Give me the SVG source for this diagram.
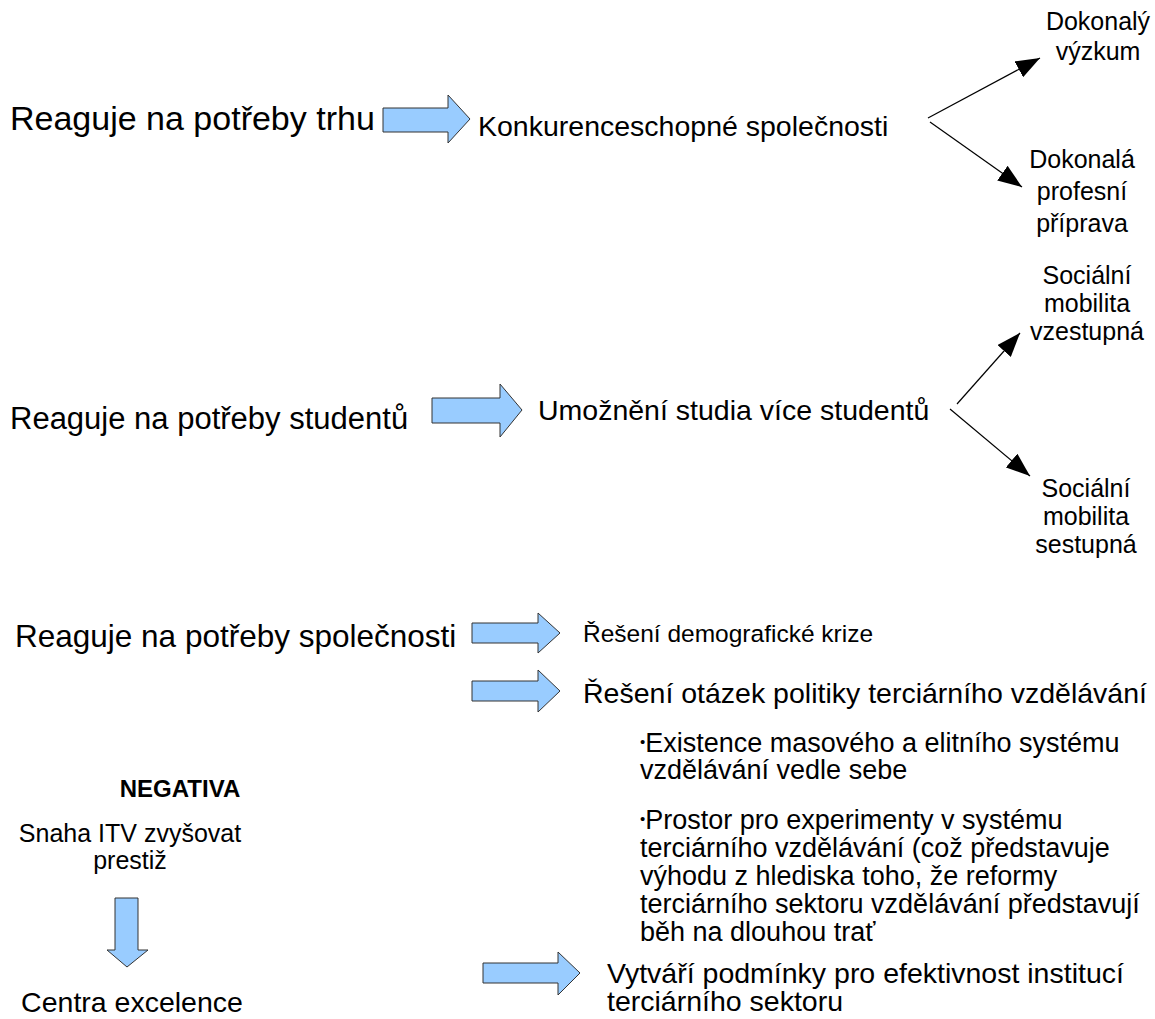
<svg xmlns="http://www.w3.org/2000/svg" width="1155" height="1019" viewBox="0 0 1155 1019">
<style>
text{font-family:"Liberation Sans",Arial,sans-serif;fill:#000}
.mid{font-size:28.5px}
.sm{font-size:25px}
.bl{font-size:27px}
.bul{font-size:15px}
.c{text-anchor:middle}
.blk{fill:#99ccff;stroke:#333;stroke-width:1}
.ln{stroke:#000;stroke-width:1.2;fill:none;marker-end:url(#ah)}
</style>
<defs>
<marker id="ah" viewBox="0 0 24 18" refX="24" refY="9" markerWidth="24" markerHeight="18" markerUnits="userSpaceOnUse" orient="auto">
<path d="M0,0 L24,9 L0,18 Z" fill="#000"/>
</marker>
</defs>
<rect width="1155" height="1019" fill="#fff"/>
<g id="connectors">
<path class="blk" d="M383,108 H448 V95 L470,119 L448,143 V132 H383 Z"/>
<path class="blk" d="M432,398 H500 V384 L522,410 L500,437 V423 H432 Z"/>
<path class="blk" d="M472,623 H538 V613 L560,633 L538,653 V643 H472 Z"/>
<path class="blk" d="M472,681 H538 V670 L560,691 L538,712 V701 H472 Z"/>
<path class="blk" d="M483,963 H558 V952 L580,973 L558,995 V983 H483 Z"/>
<path class="blk" d="M115,898 H138 V950 H148 L127,967 L107,950 H115 Z"/>
<line class="ln" x1="928" y1="118" x2="1040" y2="58"/>
<line class="ln" x1="930" y1="122" x2="1022" y2="187"/>
<line class="ln" x1="957" y1="404" x2="1020" y2="333"/>
<line class="ln" x1="950" y1="409" x2="1030" y2="476"/>
</g>
<g id="trh"><text font-size="34" x="10" y="130">Reaguje na potřeby trhu</text></g>
<g id="konkurence"><text class="mid" x="478" y="136">Konkurenceschopné společnosti</text></g>
<g id="vyzkum"><text class="sm c" x="1098" y="30">Dokonalý</text><text class="sm c" x="1098" y="60">výzkum</text></g>
<g id="priprava"><text class="sm c" x="1082" y="168">Dokonalá</text><text class="sm c" x="1082" y="200">profesní</text><text class="sm c" x="1082" y="232">příprava</text></g>
<g id="studenti"><text font-size="31" x="10" y="429">Reaguje na potřeby studentů</text></g>
<g id="umozneni"><text class="mid" x="538" y="420">Umožnění studia více studentů</text></g>
<g id="vzestupna"><text class="sm c" x="1087" y="284">Sociální</text><text class="sm c" x="1087" y="312">mobilita</text><text class="sm c" x="1087" y="340">vzestupná</text></g>
<g id="sestupna"><text class="sm c" x="1086" y="497">Sociální</text><text class="sm c" x="1086" y="525">mobilita</text><text class="sm c" x="1086" y="553">sestupná</text></g>
<g id="spolecnost"><text font-size="31.5" x="15" y="647">Reaguje na potřeby společnosti</text></g>
<g id="demografie"><text font-size="24.5" x="583" y="642">Řešení demografické krize</text></g>
<g id="politika"><text font-size="28.5" x="583" y="703">Řešení otázek politiky terciárního vzdělávání</text></g>
<g id="existence"><text class="bl" x="640" y="752"><tspan class="bul" dy="-5">•</tspan><tspan dy="5">Existence masového a elitního systému</tspan></text><text class="bl" x="640" y="779">vzdělávání vedle sebe</text></g>
<g id="prostor"><text class="bl" x="640" y="829"><tspan class="bul" dy="-5">•</tspan><tspan dy="5">Prostor pro experimenty v systému</tspan></text><text class="bl" x="640" y="857">terciárního vzdělávání (což představuje</text><text class="bl" x="640" y="885">výhodu z hlediska toho, že reformy</text><text class="bl" x="640" y="913">terciárního sektoru vzdělávání představují</text><text class="bl" x="640" y="941">běh na dlouhou trať</text></g>
<g id="vytvari"><text class="mid" x="607" y="983">Vytváří podmínky pro efektivnost institucí</text><text class="mid" x="607" y="1011">terciárního sektoru</text></g>
<g id="negativa"><text font-size="24" class="c" x="180" y="797" font-weight="bold">NEGATIVA</text></g>
<g id="snaha"><text class="sm c" x="130" y="842">Snaha ITV zvyšovat</text><text class="sm c" x="130" y="869">prestiž</text></g>
<g id="centra"><text class="mid c" x="132" y="1012">Centra excelence</text></g>
</svg>
